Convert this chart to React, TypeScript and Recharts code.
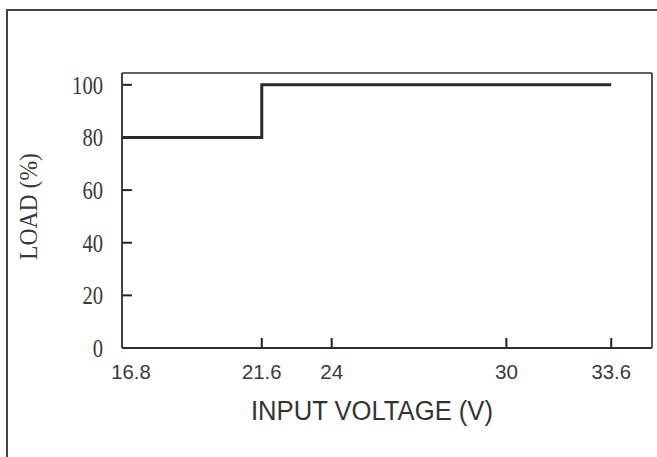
// App.tsx

import React from "react";
import {
  LineChart,
  Line,
  XAxis,
  YAxis,
  Label,
  ReferenceLine,
} from "recharts";

const voltages = [16.8, 21.6, 33.6];
const loads = [80, 100, 100];
const xTicks = [16.8, 21.6, 24, 30, 33.6];
const yTicks = [0, 20, 40, 60, 80, 100];

const X_MIN = 16.8;
const X_MAX = 35;
const Y_MAX = 104.5;

const data = voltages.map((v, i) => ({ v, load: loads[i] }));

const AXIS = "#2e2e2e";
// inward tick length in data units (about 10px)
const TICK_X = 0.34;
const TICK_Y = 3.8;

const XTick = (props: any) => {
  const { x, y, payload, index } = props;
  const s = String(payload.value);
  const len = s.replace(".", "").length * 11.5 + (s.includes(".") ? 5 : 0);
  return (
    <text
      x={x + (index === 0 ? 9 : 0)}
      y={y}
      textAnchor="middle"
      fontFamily="'Liberation Sans', Arial, sans-serif"
      fontSize={21}
      fill="#3a3a3a"
      textLength={len}
      lengthAdjust="spacingAndGlyphs"
    >
      {s}
    </text>
  );
};

const YTick = (props: any) => {
  const { x, y, payload } = props;
  const s = String(payload.value);
  return (
    <text
      x={x}
      y={y + 9}
      textAnchor="end"
      fontFamily="'Liberation Serif', 'Times New Roman', serif"
      fontSize={25}
      fill="#3a3a3a"
      textLength={s.length * 10.3}
      lengthAdjust="spacingAndGlyphs"
    >
      {s}
    </text>
  );
};

export default function App() {
  return (
    <div style={{ position: "absolute", left: 0, top: 0, width: 657, height: 457 }}>
      <div
        style={{
          position: "absolute",
          left: 6,
          top: 9,
          width: 651,
          height: 448,
          boxSizing: "border-box",
          borderLeft: "2px solid #444",
          borderTop: "2px solid #444",
        }}
      />
      <LineChart
        width={657}
        height={457}
        data={data}
        margin={{ top: 73, right: 5, left: 0, bottom: 0 }}
        style={{ position: "absolute", left: 0, top: 0 }}
      >
        <XAxis
          dataKey="v"
          type="number"
          domain={[X_MIN, X_MAX]}
          ticks={xTicks}
          height={109}
          tickLine={false}
          tickMargin={25}
          axisLine={{ stroke: AXIS, strokeWidth: 1.8 }}
          tick={<XTick />}
          interval={0}
        >
          <Label
            content={(p: any) => {
              const vb = p.viewBox;
              return (
                <text
                  x={vb.x + 250}
                  y={vb.y + 72}
                  textAnchor="middle"
                  fontFamily="'Liberation Sans', Arial, sans-serif"
                  fontSize={27}
                  fill="#333"
                  textLength={242}
                  lengthAdjust="spacingAndGlyphs"
                >
                  INPUT VOLTAGE (V)
                </text>
              );
            }}
          />
        </XAxis>
        <YAxis
          type="number"
          domain={[0, Y_MAX]}
          ticks={yTicks}
          width={122}
          tickLine={false}
          tickMargin={13}
          axisLine={{ stroke: AXIS, strokeWidth: 1.8 }}
          tick={<YTick />}
          interval={0}
        >
          <Label
            content={(p: any) => {
              const vb = p.viewBox;
              const cx = 37;
              const cy = vb.y + 133.5;
              return (
                <text
                  x={cx}
                  y={cy}
                  transform={`rotate(-90, ${cx}, ${cy})`}
                  textAnchor="middle"
                  fontFamily="'Liberation Serif', 'Times New Roman', serif"
                  fontSize={25}
                  fill="#3a3a3a"
                  textLength={107}
                  lengthAdjust="spacingAndGlyphs"
                >
                  LOAD (%)
                </text>
              );
            }}
          />
        </YAxis>
        <ReferenceLine y={Y_MAX} stroke={AXIS} strokeWidth={1.6} ifOverflow="visible" />
        <ReferenceLine x={X_MAX} stroke={AXIS} strokeWidth={1.6} ifOverflow="visible" />
        {xTicks.slice(1).map((t) => (
          <ReferenceLine
            key={`xt${t}`}
            segment={[
              { x: t, y: 0 },
              { x: t, y: TICK_Y },
            ]}
            stroke="#222"
            strokeWidth={2}
            ifOverflow="visible"
          />
        ))}
        {yTicks.slice(1).map((t) => (
          <ReferenceLine
            key={`yt${t}`}
            segment={[
              { x: X_MIN, y: t },
              { x: X_MIN + TICK_X, y: t },
            ]}
            stroke="#222"
            strokeWidth={2}
            ifOverflow="visible"
          />
        ))}
        <Line
          type="stepAfter"
          dataKey="load"
          stroke="#2a2a2a"
          strokeWidth={3}
          dot={false}
          activeDot={false}
          isAnimationActive={false}
        />
      </LineChart>
    </div>
  );
}
